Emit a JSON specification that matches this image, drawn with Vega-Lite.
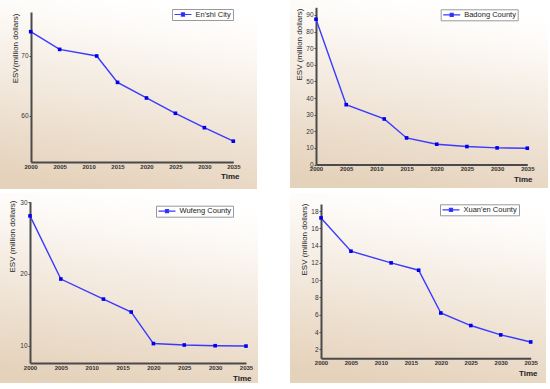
{
  "$schema": "https://vega.github.io/schema/vega-lite/v6.json",
  "padding": 0,
  "background": "#ffffff",
  "bounds": "flush",
  "columns": 2,
  "spacing": {"row": 4, "column": 32},
  "resolve": {"scale": {"color": "independent"}, "legend": {"color": "independent"}},
  "datasets": {
    "esv": [
      {"region": "En'shi City", "year": 2000, "esv": 74.05},
      {"region": "En'shi City", "year": 2005, "esv": 71.1},
      {"region": "En'shi City", "year": 2011.4, "esv": 70.0},
      {"region": "En'shi City", "year": 2015, "esv": 65.6},
      {"region": "En'shi City", "year": 2020, "esv": 63.0},
      {"region": "En'shi City", "year": 2025, "esv": 60.45},
      {"region": "En'shi City", "year": 2030, "esv": 58.05},
      {"region": "En'shi City", "year": 2035, "esv": 55.8},
      {"region": "Badong County", "year": 2000, "esv": 87.4},
      {"region": "Badong County", "year": 2005, "esv": 36.0},
      {"region": "Badong County", "year": 2011.3, "esv": 27.4},
      {"region": "Badong County", "year": 2015, "esv": 16.0},
      {"region": "Badong County", "year": 2020, "esv": 12.2},
      {"region": "Badong County", "year": 2025, "esv": 10.8},
      {"region": "Badong County", "year": 2030, "esv": 10.0},
      {"region": "Badong County", "year": 2035, "esv": 9.8},
      {"region": "Wufeng County", "year": 2000, "esv": 28.1},
      {"region": "Wufeng County", "year": 2005, "esv": 19.3},
      {"region": "Wufeng County", "year": 2011.9, "esv": 16.5},
      {"region": "Wufeng County", "year": 2016.4, "esv": 14.7},
      {"region": "Wufeng County", "year": 2020, "esv": 10.3},
      {"region": "Wufeng County", "year": 2025, "esv": 10.1},
      {"region": "Wufeng County", "year": 2030, "esv": 10.0},
      {"region": "Wufeng County", "year": 2035, "esv": 9.95},
      {"region": "Xuan'en County", "year": 2000, "esv": 17.2},
      {"region": "Xuan'en County", "year": 2005, "esv": 13.35},
      {"region": "Xuan'en County", "year": 2011.7, "esv": 12.0},
      {"region": "Xuan'en County", "year": 2016.3, "esv": 11.15},
      {"region": "Xuan'en County", "year": 2020, "esv": 6.2},
      {"region": "Xuan'en County", "year": 2025, "esv": 4.75},
      {"region": "Xuan'en County", "year": 2030, "esv": 3.67},
      {"region": "Xuan'en County", "year": 2035, "esv": 2.85}
    ]
  },
  "concat": [
    {
      "width": 257, "height": 189,
      "data": {"name": "esv"},
      "transform": [{"filter": {"field": "region", "equal": "En'shi City"}}],
      "encoding": {
        "x": {"field": "year", "type": "quantitative",
          "scale": {"domain": [2000, 2035], "range": [30.7, 233.3], "nice": false, "zero": false},
          "axis": {"values": [2000, 2005, 2010, 2015, 2020, 2025, 2030, 2035], "format": "d", "title": "Time", "titleX": 239, "titleY": 14, "titleAlign": "right", "titleBaseline": "middle", "offset": -27}},
        "y": {"field": "esv", "type": "quantitative",
          "scale": {"domain": [52.33, 77.33], "range": [162, 12], "nice": false, "zero": false},
          "axis": {"values": [60, 70], "title": "ESV(million dollars)", "titleX": -16, "titleY": 13, "offset": -31}}
      },
      "layer": [
        {"mark": {"type": "line", "strokeWidth": 1.4},
         "encoding": {"color": {"field": "region", "type": "nominal", "scale": {"range": ["#3a3aff"]},
           "legend": {"legendX": 172, "legendY": 9}}}},
        {"mark": {"type": "square", "size": 13, "filled": true, "color": "#0000ee", "opacity": 1}}
      ]
    },
    {
      "width": 258, "height": 188,
      "data": {"name": "esv"},
      "transform": [{"filter": {"field": "region", "equal": "Badong County"}}],
      "encoding": {
        "x": {"field": "year", "type": "quantitative",
          "scale": {"domain": [2000, 2035], "range": [26, 237.3], "nice": false, "zero": false},
          "axis": {"values": [2000, 2005, 2010, 2015, 2020, 2025, 2030, 2035], "format": "d", "title": "Time", "titleX": 242, "titleY": 14.5, "titleAlign": "right", "titleBaseline": "middle", "offset": -23.5}},
        "y": {"field": "esv", "type": "quantitative",
          "scale": {"domain": [0, 94.6], "range": [164.5, 7.3], "nice": false, "zero": false},
          "axis": {"values": [0, 10, 20, 30, 40, 50, 60, 70, 80, 90], "title": "ESV (million dollars)", "titleX": -17, "titleY": 8, "offset": -26}}
      },
      "layer": [
        {"mark": {"type": "line", "strokeWidth": 1.4},
         "encoding": {"color": {"field": "region", "type": "nominal", "scale": {"range": ["#3a3aff"]},
           "legend": {"legendX": 150.7, "legendY": 9.3}}}},
        {"mark": {"type": "square", "size": 13, "filled": true, "color": "#0000ee", "opacity": 1}}
      ]
    },
    {
      "width": 258, "height": 190,
      "data": {"name": "esv"},
      "transform": [{"filter": {"field": "region", "equal": "Wufeng County"}}],
      "encoding": {
        "x": {"field": "year", "type": "quantitative",
          "scale": {"domain": [2000, 2035], "range": [30, 246], "nice": false, "zero": false},
          "axis": {"values": [2000, 2005, 2010, 2015, 2020, 2025, 2030, 2035], "format": "d", "title": "Time", "titleX": 251, "titleY": 15.5, "titleAlign": "right", "titleBaseline": "middle", "offset": -20}},
        "y": {"field": "esv", "type": "quantitative",
          "scale": {"domain": [7.59, 30.08], "range": [170, 8.7], "nice": false, "zero": false},
          "axis": {"values": [10, 20, 30], "title": "ESV (million dollars)", "titleX": -18, "titleY": 7, "offset": -30}}
      },
      "layer": [
        {"mark": {"type": "line", "strokeWidth": 1.4},
         "encoding": {"color": {"field": "region", "type": "nominal", "scale": {"range": ["#3a3aff"]},
           "legend": {"legendX": 156, "legendY": 12.7}}}},
        {"mark": {"type": "square", "size": 13, "filled": true, "color": "#0000ee", "opacity": 1}}
      ]
    },
    {
      "width": 256, "height": 190,
      "data": {"name": "esv"},
      "transform": [{"filter": {"field": "region", "equal": "Xuan'en County"}}],
      "encoding": {
        "x": {"field": "year", "type": "quantitative",
          "scale": {"domain": [2000, 2035], "range": [31, 240.7], "nice": false, "zero": false},
          "axis": {"values": [2000, 2005, 2010, 2015, 2020, 2025, 2030, 2035], "format": "d", "title": "Time", "titleX": 247, "titleY": 15.5, "titleAlign": "right", "titleBaseline": "middle", "offset": -24.7}},
        "y": {"field": "esv", "type": "quantitative",
          "scale": {"domain": [0.96, 18.81], "range": [165.3, 11], "nice": false, "zero": false},
          "axis": {"values": [2, 4, 6, 8, 10, 12, 14, 16, 18], "title": "ESV (million dollars)", "titleX": -17, "titleY": 10, "offset": -31}}
      },
      "layer": [
        {"mark": {"type": "line", "strokeWidth": 1.4},
         "encoding": {"color": {"field": "region", "type": "nominal", "scale": {"range": ["#3a3aff"]},
           "legend": {"legendX": 150, "legendY": 11.3}}}},
        {"mark": {"type": "square", "size": 13, "filled": true, "color": "#0000ee", "opacity": 1}}
      ]
    }
  ],
  "config": {
    "font": "Liberation Sans",
    "view": {
      "stroke": null,
      "fill": {"gradient": "linear", "x1": 0.6, "y1": 0, "x2": 0.4, "y2": 1,
        "stops": [{"offset": 0, "color": "#ffffff"}, {"offset": 0.12, "color": "#fefcfa"}, {"offset": 1, "color": "#e5d2bb"}]}
    },
    "axis": {
      "grid": false,
      "domainColor": "#4a4a4a",
      "domainWidth": 2,
      "labelFont": "Liberation Sans",
      "labelFontSize": 6.5,
      "labelColor": "#333333",
      "labelOverlap": false,
      "labelFlush": false,
      "titleFont": "Liberation Sans",
      "titleColor": "#222222"
    },
    "axisX": {
      "ticks": false,
      "labelPadding": 1,
      "labelFontWeight": "bold",
      "labelFontSize": 6,
      "titleFontSize": 8,
      "titleFontWeight": "bold"
    },
    "axisY": {
      "tickSize": 2,
      "tickColor": "#4a4a4a",
      "labelPadding": 1,
      "titleFontSize": 8,
      "titleFontWeight": "normal",
      "titleAngle": -90,
      "titleAlign": "right",
      "titleBaseline": "middle"
    },
    "legend": {
      "orient": "none",
      "title": null,
      "strokeColor": "#999999",
      "fillColor": "#ffffff",
      "padding": 1.5,
      "labelFont": "Liberation Sans",
      "labelFontSize": 7.5,
      "labelColor": "#222222",
      "labelOffset": 3,
      "symbolType": "M-1,0L1,0M-0.18,-0.18L0.18,-0.18L0.18,0.18L-0.18,0.18Z",
      "symbolSize": 289,
      "symbolStrokeWidth": 1.2,
      "symbolFillColor": "#0000ee",
      "symbolStrokeColor": "#3a3aff",
      "clipHeight": 8
    }
  }
}
